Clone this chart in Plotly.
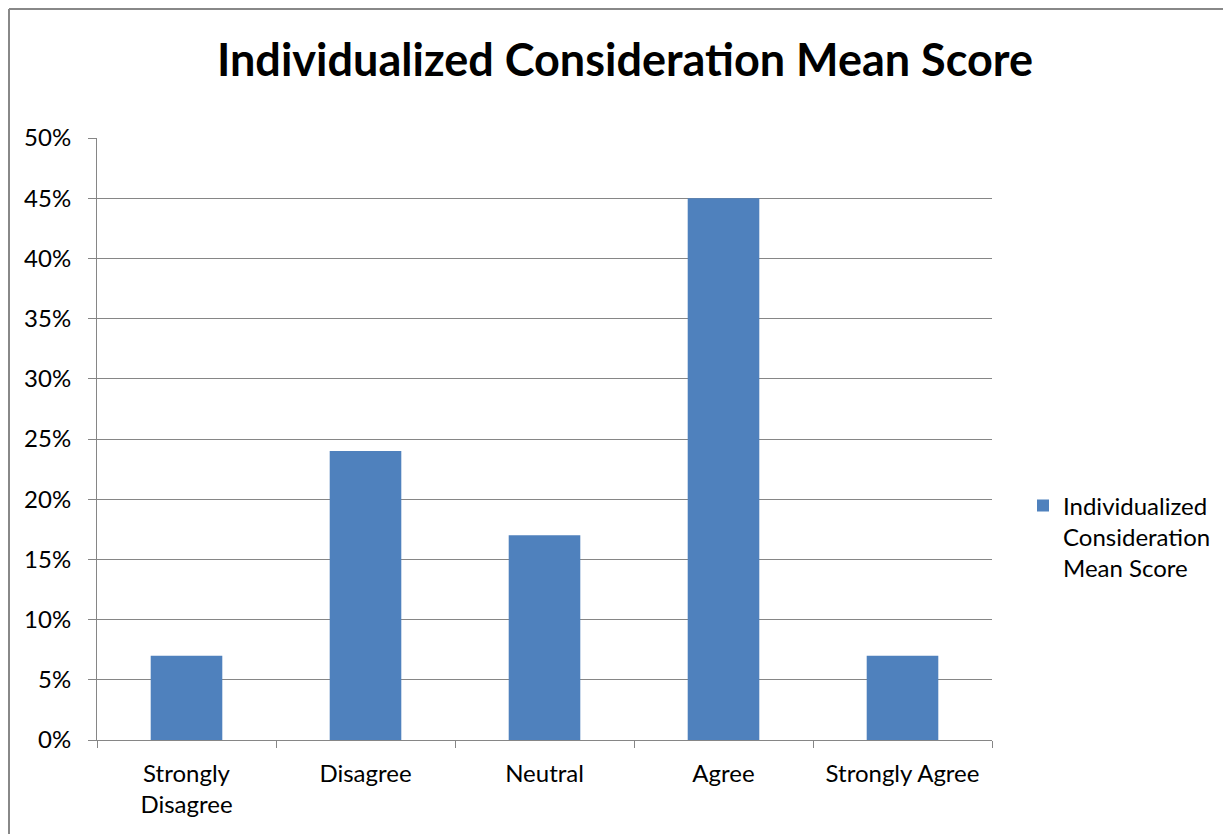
import plotly.graph_objects as go

categories = ["Strongly<br>Disagree", "Disagree", "Neutral", "Agree", "Strongly Agree"]
values = [0.07, 0.24, 0.17, 0.45, 0.07]
series_name = "Individualized<br>Consideration<br>Mean Score"
title_text = "Individualized Consideration Mean Score"
y_ticks = [0, 0.05, 0.10, 0.15, 0.20, 0.25, 0.30, 0.35, 0.40, 0.45, 0.50]

# page body has an 8px margin, so figure coordinates = screen - 8
W, H = 1223, 826
L, R, T, B = 89, 984, 130, 732

fig = go.Figure()
fig.add_trace(go.Bar(x=categories, y=values, name=series_name,
                     marker=dict(color="#4F81BD", line=dict(width=0)),
                     showlegend=True))

font_family = "Lato, Open Sans, sans-serif"
fig.update_layout(
    width=W, height=H,
    margin=dict(l=L, r=W - R, t=T, b=H - B, autoexpand=False),
    paper_bgcolor="white", plot_bgcolor="white",
    bargap=0.6,
    font=dict(family=font_family, size=24, color="black"),
    title=dict(text="<b>" + title_text + "</b>", x=617 / W, xanchor="center",
               y=1 - 52 / H, yanchor="middle",
               font=dict(size=45, family=font_family, color="black")),
    showlegend=True,
    legend=dict(x=(1015 - L) / (R - L), xanchor="left", y=(B - 529) / (B - T), yanchor="middle",
                valign="top",
                font=dict(size=24, family=font_family), bgcolor="rgba(0,0,0,0)",
                itemwidth=30, tracegroupgap=0),
    xaxis=dict(showline=True, linecolor="#868686", linewidth=1, ticks="outside",
               tickson="boundaries", ticklen=7, tickcolor="#868686",
               showgrid=False, tickfont=dict(size=24), ticklabelstandoff=12),
    yaxis=dict(range=[0, 0.5], tickvals=y_ticks, tickformat=".0%", showline=True,
               linecolor="#868686", linewidth=1, ticks="outside", ticklen=8,
               tickcolor="#868686", showgrid=True, gridcolor="#868686", gridwidth=1,
               zeroline=False, tickfont=dict(size=24), ticklabelstandoff=12),
)

# chart border (outer frame)
xl = (1 - L) / (R - L)
yt = (B - 1) / (B - T)
fig.add_shape(type="line", xref="paper", yref="paper", x0=xl, x1=(W + 20 - L) / (R - L),
              y0=yt, y1=yt, line=dict(color="#888888", width=2))
fig.add_shape(type="line", xref="paper", yref="paper", x0=xl, x1=xl,
              y0=yt, y1=(B - H - 20) / (B - T), line=dict(color="#888888", width=2))

fig.write_html("out.html")
